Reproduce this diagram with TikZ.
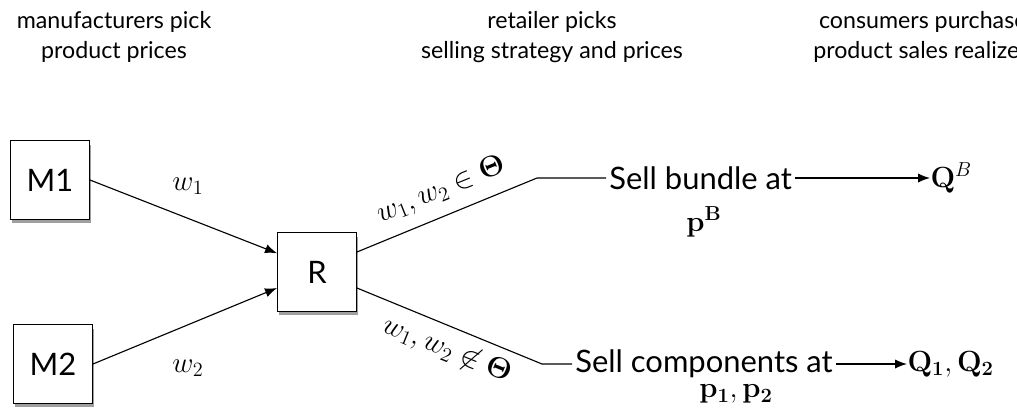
\documentclass[tikz,border=0pt]{standalone}
\usepackage{amsmath,amssymb,bm}
\usepackage[no-math]{fontspec}
\setmainfont{Lato}
\usetikzlibrary{shadows,arrows.meta}

\begin{document}
\begin{tikzpicture}[x=0.025cm,y=-0.025cm,>={Latex[length=3mm,width=2.3mm]},line width=0.8pt]
      \tikzstyle{firm}=[draw, fill=white, minimum size=1.97cm, font=\fontsize{22}{26}\selectfont,
                        drop shadow={shadow xshift=0.04cm, shadow yshift=-0.1cm, opacity=0.5, fill=black!75}]
      \tikzstyle{stage}=[align=center, font=\fontsize{16.5}{21}\selectfont]
      \tikzstyle{plain}=[inner sep=2pt, font=\fontsize{22}{26}\selectfont]
      \tikzstyle{rate}=[inner sep=0pt, font=\fontsize{21}{24}\selectfont]
      \useasboundingbox (0,0) rectangle (1017,410);
      % stage headings
      \node[stage] (hm) at (114,37) {manufacturers pick\\product prices};
      \node[stage] (hr) at (552,37) {retailer picks\\selling strategy and prices};
      \node[stage, anchor=west] (hc) at (808,37) {consumers purchase\\product sales realized};
      % firms
      \node[firm] (m1) at (50,180) {M1};
      \node[firm] (m2) at (53,364) {M2};
      \node[firm] (r) at (317,272) {R};
      \draw[->] (m1.east) -- ([yshift=0.47cm]r.west);
      \draw[->] (m2.east) -- ([yshift=-0.4cm]r.west);
      \node[rate] (w1) at (188,186) {$w_1$};
      \node[rate] (w2) at (188,368) {$w_2$};
      % retailer choice
      \coordinate (kb) at (537,178);
      \coordinate (kc) at (542,364);
      \node[plain, anchor=west] (bund) at (606,178) {Sell bundle at};
      \node[rate] (pb) at (704,222) {$\mathbf{p^B}$};
      \node[plain, anchor=west] (comp) at (572,364) {Sell components at};
      \node[rate] (pc) at (736,394) {$\mathbf{p_1}, \mathbf{p_2}$};
      \draw ([yshift=0.5cm]r.east) -- (kb) -- (bund.west);
      \draw ([yshift=-0.4cm]r.east) -- (kc) -- (comp.west);
      \node[rate, rotate=22] (lin) at (441,190) {$w_1, w_2 \in \boldsymbol{\Theta}$};
      \node[rate, rotate=-22] (lout) at (447,350) {$w_1, w_2 \not\in \boldsymbol{\Theta}$};
      % sales
      \node[plain, anchor=west, inner sep=0pt] (qb) at (930,178) {$\mathbf{Q}^B$};
      \node[plain, anchor=west, inner sep=0pt] (qc) at (907,364) {$\mathbf{Q_1}, \mathbf{Q_2}$};
      \draw[->] (bund) -- (qb);
      \draw[->] (comp) -- (qc);
\end{tikzpicture}
\end{document}
